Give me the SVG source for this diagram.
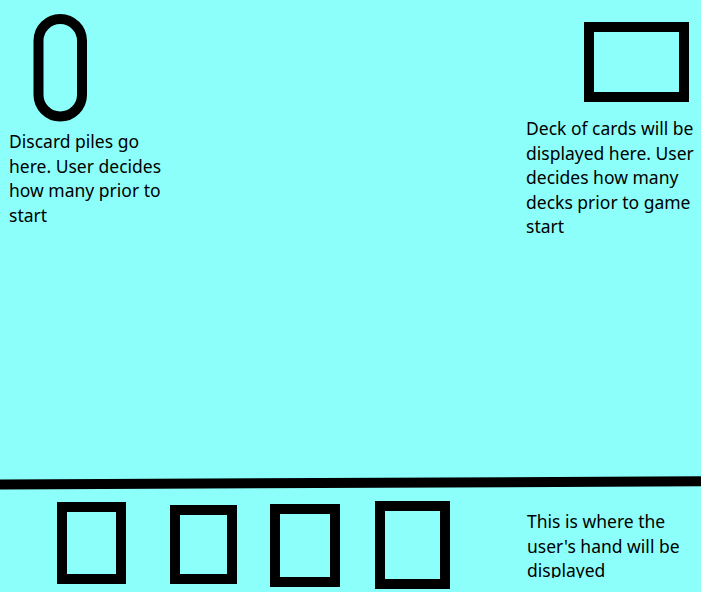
<svg xmlns="http://www.w3.org/2000/svg" width="701" height="592" viewBox="0 0 701 592">
<style>
.shape{fill:none;stroke:#000;stroke-width:10}
.lbl{font-family:"Noto Sans","Open Sans",sans-serif;font-size:17.5px;fill:#000}
</style>
<defs>
<clipPath id="handclip"><rect x="500" y="500" width="201" height="78"/></clipPath>
</defs>
<rect x="0" y="0" width="701" height="592" fill="#8cfffa"/>
<g id="discard">
<rect class="shape" x="38.5" y="19" width="43.5" height="97.5" rx="21.75" ry="21.75" stroke-width="10.5"/>
<text class="lbl"><tspan x="9" y="148">Discard piles go</tspan><tspan x="9" y="172.5">here. User decides</tspan><tspan x="9" y="197">how many prior to</tspan><tspan x="9" y="221.5">start</tspan></text>
</g>
<g id="deck">
<rect class="shape" x="589" y="27" width="95" height="70"/>
<text class="lbl"><tspan x="526" y="135">Deck of cards will be</tspan><tspan x="526" y="159.5">displayed here. User</tspan><tspan x="526" y="184">decides how many</tspan><tspan x="526" y="208.5">decks prior to game</tspan><tspan x="526" y="233">start</tspan></text>
</g>
<g id="connectors">
<line x1="0" y1="484.5" x2="701" y2="481.3" stroke="#000" stroke-width="10"/>
</g>
<g id="hand">
<rect class="shape" x="62" y="507" width="59" height="72"/>
<rect class="shape" x="175" y="510" width="57" height="69"/>
<rect class="shape" x="275" y="509" width="60" height="73"/>
<rect class="shape" x="380" y="506" width="65" height="78"/>
<text class="lbl" clip-path="url(#handclip)"><tspan x="527" y="528.3">This is where the</tspan><tspan x="527" y="552.7">user's hand will be</tspan><tspan x="527" y="577">displayed</tspan></text>
</g>
</svg>
